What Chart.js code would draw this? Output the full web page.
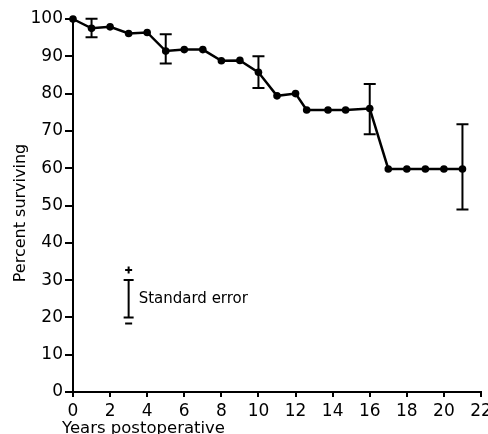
<!DOCTYPE html>
<html><head><meta charset="utf-8">
<script src="https://cdn.jsdelivr.net/npm/chart.js@4/dist/chart.umd.min.js"></script>
<style>html,body{margin:0;padding:0;background:#fff;} #wrap{width:488px;height:434px;position:relative;}</style>
</head><body><div id="wrap"><canvas id="c" width="488" height="434"></canvas></div>
<script>
const years = [0,1,2,3,4,5,6,7,8,9,10,11,12,12.6,13.75,14.7,16,17,18,19,20,21];
const surviving = [100,97.5,97.9,96.1,96.4,91.4,91.8,91.8,88.8,88.9,85.7,79.4,80.0,75.6,75.6,75.6,76.0,59.8,59.8,59.8,59.8,59.8];
const errYears = [1,5,10,16,21];
const errHigh = [100.1,95.9,90.0,82.6,71.8];
const errLow = [95.1,88.1,81.5,69.1,48.9];
const xTickValues = [0,2,4,6,8,10,12,14,16,18,20,22];
const yTickValues = [0,10,20,30,40,50,60,70,80,90,100];
const xTitle = 'Years postoperative';
const yTitle = 'Percent surviving';
const legendText = 'Standard error';
const legendX = 3, legendHigh = 30, legendLow = 20;

const FONT = '"DejaVu Sans", sans-serif';

const textPlugin = {
  id: 'texts',
  afterDraw(chart) {
    const ctx = chart.ctx;
    const xs = chart.scales.x, ys = chart.scales.y;
    ctx.save();
    ctx.fillStyle = '#000';
    // x title
    ctx.font = '16.5px ' + FONT;
    ctx.textAlign = 'left';
    ctx.textBaseline = 'alphabetic';
    ctx.fillText(xTitle, xs.left - 11, 432.5);
    // y title
    ctx.save();
    ctx.translate(25, 213);
    ctx.rotate(-Math.PI / 2);
    ctx.font = '16px ' + FONT;
    ctx.textAlign = 'center';
    ctx.fillText(yTitle, 0, 0);
    ctx.restore();
    // legend
    const lx = xs.getPixelForValue(legendX);
    const ly1 = ys.getPixelForValue(legendHigh);
    const ly2 = ys.getPixelForValue(legendLow);
    ctx.strokeStyle = '#000';
    ctx.lineWidth = 2;
    ctx.beginPath();
    ctx.moveTo(lx, ly1); ctx.lineTo(lx, ly2);
    ctx.moveTo(lx - 5, ly1); ctx.lineTo(lx + 5, ly1);
    ctx.moveTo(lx - 5, ly2); ctx.lineTo(lx + 5, ly2);
    // plus
    ctx.moveTo(lx - 3.5, ly1 - 10); ctx.lineTo(lx + 3.5, ly1 - 10);
    ctx.moveTo(lx, ly1 - 13.5); ctx.lineTo(lx, ly1 - 6.5);
    // minus
    ctx.moveTo(lx - 3.5, ly2 + 6); ctx.lineTo(lx + 3.5, ly2 + 6);
    ctx.stroke();
    ctx.font = '15px ' + FONT;
    ctx.textAlign = 'left';
    ctx.textBaseline = 'middle';
    ctx.fillText(legendText, lx + 10, (ly1 + ly2) / 2);
    ctx.restore();
  }
};

const errPlugin = {
  id: 'errbars',
  afterDatasetsDraw(chart) {
    const ctx = chart.ctx;
    const xs = chart.scales.x, ys = chart.scales.y;
    ctx.save();
    ctx.strokeStyle = '#000';
    ctx.lineWidth = 2;
    ctx.beginPath();
    errYears.forEach((yr, i) => {
      const px = xs.getPixelForValue(yr);
      const ph = ys.getPixelForValue(errHigh[i]);
      const pl = ys.getPixelForValue(errLow[i]);
      ctx.moveTo(px, ph); ctx.lineTo(px, pl);
      ctx.moveTo(px - 6, ph); ctx.lineTo(px + 6, ph);
      ctx.moveTo(px - 6, pl); ctx.lineTo(px + 6, pl);
    });
    ctx.stroke();
    ctx.restore();
  }
};

new Chart(document.getElementById('c'), {
  type: 'line',
  data: {
    datasets: [{
      data: years.map((x, i) => ({x: x, y: surviving[i]})),
      borderColor: '#000',
      borderWidth: 2.5,
      backgroundColor: '#000',
      pointBackgroundColor: '#000',
      pointBorderWidth: 0,
      pointRadius: 3.8,
      tension: 0,
      clip: false
    }]
  },
  options: {
    responsive: false,
    animation: false,
    devicePixelRatio: 1,
    layout: { padding: { top: 19, right: 7, left: 0, bottom: 0 } },
    plugins: { legend: { display: false }, tooltip: { enabled: false } },
    scales: {
      x: {
        type: 'linear', min: 0, max: 22,
        afterBuildTicks(s) { s.ticks = xTickValues.map(v => ({value: v})); },
        afterFit(s) { s.height = 42; s.paddingLeft = 0; s.paddingRight = 0; },
        ticks: { color: '#000', font: { family: FONT, size: 17 }, padding: 4, maxRotation: 0, autoSkip: false },
        grid: { drawOnChartArea: false, drawTicks: true, tickLength: 5, color: '#000', lineWidth: 2 },
        border: { display: true, color: '#000', width: 2 }
      },
      y: {
        min: 0, max: 100,
        afterBuildTicks(s) { s.ticks = yTickValues.map(v => ({value: v})); },
        afterFit(s) { s.width = 73; s.paddingTop = 0; s.paddingBottom = 0; },
        ticks: { color: '#000', font: { family: FONT, size: 17 }, padding: 2, autoSkip: false },
        grid: { drawOnChartArea: false, drawTicks: true, tickLength: 8, color: '#000', lineWidth: 2 },
        border: { display: true, color: '#000', width: 2 }
      }
    }
  },
  plugins: [errPlugin, textPlugin]
});
</script>
</body></html>
